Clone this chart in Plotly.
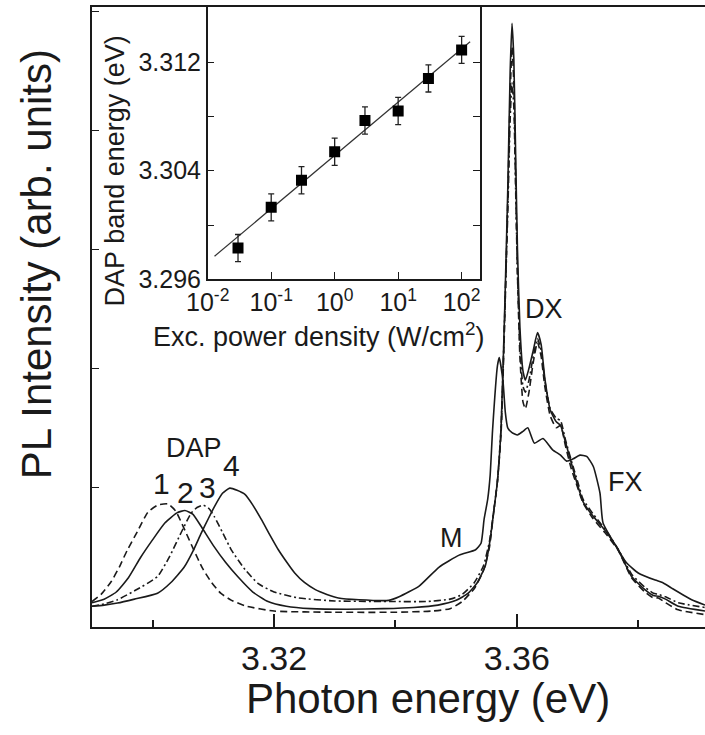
import plotly.graph_objects as go

# ---- main PL spectra (photon energy in eV, intensity in arb. units) ----
e1 = [3.290, 3.2915, 3.2932, 3.2945, 3.2958, 3.2975, 3.2992, 3.3008, 3.3025, 3.3038, 3.3052,
      3.3068, 3.3082, 3.3097, 3.3112, 3.3130, 3.3155, 3.320, 3.330, 3.340, 3.346, 3.349, 3.351,
      3.353, 3.3545, 3.3555, 3.3562, 3.3568, 3.3574, 3.3580, 3.3585, 3.3589, 3.3592, 3.3595,
      3.3598, 3.3601, 3.3605, 3.3610, 3.3614, 3.3620, 3.3627, 3.3634, 3.3640, 3.3646, 3.3655,
      3.3665, 3.3672, 3.3680, 3.3690, 3.3700, 3.3709, 3.3725, 3.3745, 3.3767, 3.3789, 3.3811,
      3.3825, 3.3833, 3.3845, 3.3866, 3.391]
i1 = [0.04, 0.10, 0.21, 0.33, 0.47, 0.63, 0.79, 0.85, 0.86, 0.80, 0.65,
      0.47, 0.32, 0.20, 0.11, 0.05, 0.0, -0.04, -0.05, -0.05, -0.04, -0.02, 0.04,
      0.15, 0.30, 0.50, 0.80, 1.05, 1.45, 2.4, 3.4, 4.3, 4.7, 4.4,
      3.6, 2.8, 2.1, 1.72, 1.66, 1.80, 2.05, 2.22, 2.10, 1.85, 1.60,
      1.50, 1.52, 1.35, 1.15, 1.00, 0.87, 0.74, 0.62, 0.47, 0.24, 0.12,
      0.07, 0.07, 0.03, -0.03, -0.07]

e2 = [3.290, 3.292, 3.294, 3.296, 3.298, 3.300, 3.302, 3.304, 3.3053, 3.3066, 3.308,
      3.310, 3.312, 3.314, 3.3165, 3.319, 3.322, 3.326, 3.332, 3.338, 3.343, 3.347, 3.350,
      3.352, 3.3535, 3.3548, 3.3556, 3.3562, 3.3568, 3.3574, 3.3580, 3.3585, 3.3589, 3.3592,
      3.3595, 3.3598, 3.3601, 3.3605, 3.3610, 3.3614, 3.3620, 3.3627, 3.3634, 3.3640, 3.3646,
      3.3655, 3.3665, 3.3672, 3.3680, 3.3690, 3.3700, 3.3709, 3.3725, 3.3745, 3.3767, 3.3789,
      3.3811, 3.3825, 3.3833, 3.3845, 3.3866, 3.391]
i2 = [0.03, 0.06, 0.12, 0.24, 0.41, 0.56, 0.70, 0.785, 0.805, 0.775, 0.67,
      0.51, 0.37, 0.25, 0.12, 0.04, 0.0, -0.02, -0.025, -0.02, -0.01, 0.01, 0.05,
      0.11, 0.20, 0.34, 0.56, 0.80, 1.05, 1.5, 2.5, 3.5, 4.5, 4.9,
      4.6, 3.8, 3.0, 2.35, 1.98, 1.90, 2.00, 2.15, 2.30, 2.20, 1.92,
      1.65, 1.55, 1.52, 1.38, 1.20, 1.02, 0.88, 0.76, 0.64, 0.475, 0.25,
      0.14, 0.09, 0.085, 0.06, 0.0, -0.04]

e3 = [3.290, 3.292, 3.2942, 3.297, 3.3008, 3.3028, 3.3047, 3.3063, 3.3073, 3.3083, 3.3093,
      3.3102, 3.3116, 3.3130, 3.3152, 3.3174, 3.320, 3.324, 3.330, 3.340, 3.345, 3.349, 3.351,
      3.353, 3.3545, 3.3555, 3.3562, 3.3568, 3.3574, 3.3580, 3.3585, 3.3589, 3.3592, 3.3595,
      3.3598, 3.3601, 3.3605, 3.3610, 3.3614, 3.3620, 3.3627, 3.3634, 3.3640, 3.3646, 3.3655,
      3.3665, 3.3672, 3.3680, 3.3690, 3.3700, 3.3709, 3.3725, 3.3745, 3.3767, 3.3789, 3.3811,
      3.3825, 3.3833, 3.3845, 3.3866, 3.391]
i3 = [0.0, 0.02, 0.055, 0.13, 0.25, 0.42, 0.62, 0.78, 0.83, 0.85, 0.82,
      0.75, 0.61, 0.47, 0.31, 0.19, 0.12, 0.07, 0.045, 0.04, 0.04, 0.06, 0.10,
      0.20, 0.34, 0.55, 0.80, 1.05, 1.5, 2.45, 3.3, 4.1, 4.4, 4.2,
      3.5, 2.8, 2.2, 1.85, 1.80, 1.90, 2.10, 2.25, 2.15, 1.90, 1.66,
      1.58, 1.56, 1.40, 1.22, 1.05, 0.90, 0.78, 0.65, 0.48, 0.27, 0.16,
      0.11, 0.10, 0.08, 0.03, -0.01]

e4 = [3.290, 3.292, 3.2942, 3.297, 3.3008, 3.303, 3.3052, 3.3067, 3.308, 3.3092, 3.3102,
      3.3115, 3.3127, 3.3139, 3.3152, 3.3165, 3.3179, 3.3193, 3.3207, 3.3221, 3.3234, 3.325,
      3.3268, 3.3287, 3.3306, 3.334, 3.3389, 3.3406, 3.3439, 3.3472, 3.3505, 3.3532, 3.3541,
      3.3546, 3.3552, 3.3556, 3.356, 3.3568, 3.3571, 3.3577, 3.3581, 3.3585, 3.3592, 3.3601,
      3.3610, 3.3618, 3.3629, 3.3643, 3.3659, 3.3672, 3.3682, 3.3693, 3.3704, 3.3715, 3.3726,
      3.3737, 3.3742, 3.3767, 3.3780, 3.3800, 3.3828, 3.3840, 3.3855, 3.3888, 3.391]
i4 = [0.0, 0.01, 0.027, 0.06, 0.11, 0.20, 0.33, 0.47, 0.615, 0.74, 0.84,
      0.95, 0.993, 0.975, 0.94, 0.85, 0.73, 0.60, 0.475, 0.37, 0.28, 0.20,
      0.14, 0.10, 0.07, 0.055, 0.05, 0.08, 0.17, 0.33, 0.43, 0.475, 0.53,
      0.73, 0.90, 1.10, 1.48, 2.02, 2.09, 1.90, 1.63, 1.50, 1.46, 1.44,
      1.47, 1.50, 1.37, 1.41, 1.315, 1.27, 1.22, 1.24, 1.27, 1.26, 1.175,
      0.95, 0.70, 0.475, 0.37, 0.28, 0.22, 0.20, 0.153, 0.055, 0.01]

# ---- inset: DAP band energy vs excitation power density ----
power = [0.03, 0.1, 0.3, 1, 3, 10, 30, 100]
dap_energy = [3.2983, 3.3013, 3.3033, 3.3054, 3.3077, 3.3084, 3.3108, 3.3129]
dap_err = [0.001] * 8
fit_power = [0.0128, 136]
fit_energy = [3.2977, 3.3135]

FONT = "Liberation Sans, Arial, Helvetica, sans-serif"
INK = "#1a1a1a"

fig = go.Figure()

line_styles = [
    (e1, i1, "7px,4px"),
    (e2, i2, "solid"),
    (e3, i3, "7px,3px,2px,3px"),
    (e4, i4, "solid"),
]
for ex, iy, dash in line_styles:
    fig.add_trace(go.Scatter(
        x=ex, y=iy, mode="lines",
        line=dict(color=INK, width=1.6, dash=dash, shape="spline", smoothing=0.5),
        showlegend=False, hoverinfo="skip"))

# inset
fig.add_trace(go.Scatter(
    x=fit_power, y=fit_energy, mode="lines", xaxis="x2", yaxis="y2",
    line=dict(color="#333", width=1.2), showlegend=False))
fig.add_trace(go.Scatter(
    x=power, y=dap_energy, mode="markers", xaxis="x2", yaxis="y2",
    marker=dict(symbol="square", size=11, color="black"),
    error_y=dict(type="data", array=dap_err, color="#222", thickness=1.3, width=3),
    showlegend=False))

fig.update_layout(
    width=705, height=735,
    margin=dict(l=92, r=0, t=7, b=108),
    paper_bgcolor="white", plot_bgcolor="white",
    font=dict(family=FONT, color=INK),
    xaxis=dict(
        range=[3.290, 3.391], showgrid=False, zeroline=False,
        showline=True, linecolor=INK, linewidth=2, mirror=True,
        tick0=3.32, dtick=0.04, tickformat=".2f", ticks="inside", ticklen=13,
        tickcolor=INK, tickwidth=1.5,
        minor=dict(dtick=0.02, tick0=3.30, ticks="inside", ticklen=7, tickcolor=INK),
        tickfont=dict(size=34, family=FONT, color=INK),
    ),
    yaxis=dict(
        range=[-0.174, 5.036], showgrid=False, zeroline=False,
        showline=True, linecolor=INK, linewidth=2,
        tickvals=[1, 2, 3, 4, 5], showticklabels=False,
        ticks="inside", ticklen=7, tickcolor=INK, tickwidth=1.2,
    ),
    xaxis2=dict(
        domain=[0.1888, 0.633], anchor="y2", type="log", range=[-2, 2.29],
        showgrid=False, zeroline=False, showline=True, linecolor=INK, linewidth=1.5,
        mirror=True,
        tickvals=[0.01, 0.1, 1, 10, 100],
        ticktext=["10<sup>-2</sup>", "10<sup>-1</sup>", "10<sup>0</sup>",
                  "10<sup>1</sup>", "10<sup>2</sup>"],
        ticks="inside", ticklen=8, tickcolor=INK,
        tickfont=dict(size=25, family=FONT, color=INK),
    ),
    yaxis2=dict(
        domain=[0.5608, 1.0], anchor="x2", range=[3.296, 3.31606],
        showgrid=False, zeroline=False, showline=True, linecolor=INK, linewidth=1.5,
        mirror="ticks",
        tickvals=[3.296, 3.300, 3.304, 3.308, 3.312],
        ticktext=["3.296", "", "3.304", "", "3.312"],
        ticks="inside", ticklen=7, tickcolor=INK,
        tickfont=dict(size=25, family=FONT, color=INK),
    ),
)

# axis titles
titles = [
    ("Photon energy (eV)", 0.548, -0.1147, 0, 42),
    ("PL Intensity (arb. units)", -0.0914, 0.585, -90, 42),
    ("Exc. power density (W/cm<sup>2</sup>)", 0.370, 0.4705, 0, 27),
    ("DAP band energy (eV)", 0.039, 0.7363, -90, 27),
]
for txt, ax, ay, ang, sz in titles:
    fig.add_annotation(text=txt, xref="paper", yref="paper", x=ax, y=ay,
                       xanchor="center", yanchor="middle", textangle=ang,
                       showarrow=False, font=dict(size=sz, family=FONT, color=INK))

# peak labels
labels = [
    ("DAP", 3.30677, 1.332, 27),
    ("1", 3.30147, 1.03, 30),
    ("2", 3.30546, 0.96, 30),
    ("3", 3.30909, 1.00, 30),
    ("4", 3.31306, 1.18, 30),
    ("M", 3.34916, 0.576, 27),
    ("DX", 3.36439, 2.50, 27),
    ("FX", 3.37796, 1.046, 27),
]
for txt, lx, ly, sz in labels:
    fig.add_annotation(text=txt, x=lx, y=ly, xref="x", yref="y", showarrow=False,
                       xanchor="center", yanchor="middle",
                       font=dict(size=sz, family=FONT, color=INK))

# the page body has a default 8px margin; drop it so the figure sits at the corner
fig.write_html("out.html", config={"displayModeBar": False},
               post_script="document.body.style.margin='0px';")
